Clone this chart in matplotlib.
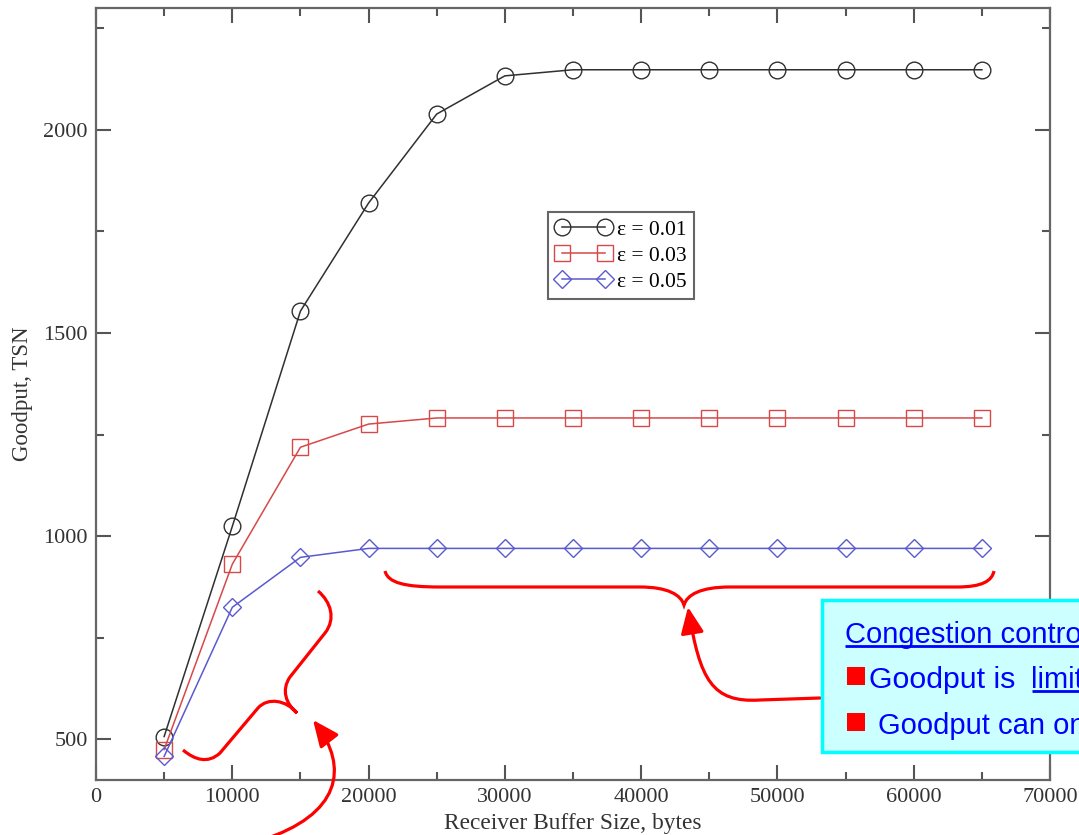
import matplotlib
matplotlib.use("Agg")
import matplotlib.pyplot as plt
from matplotlib.path import Path
from matplotlib.patches import PathPatch, FancyArrowPatch, Rectangle
from matplotlib.ticker import MultipleLocator

# ---------------- data ----------------
buffer_sizes = [5000, 10000, 15000, 20000, 25000, 30000, 35000, 40000,
                45000, 50000, 55000, 60000, 65000]
goodput_eps001 = [507, 1024, 1554, 1820, 2039, 2133, 2148, 2148, 2148,
                  2148, 2148, 2148, 2148]
goodput_eps003 = [475, 931, 1219, 1276, 1291, 1291, 1291, 1291, 1291,
                  1291, 1291, 1291, 1291]
goodput_eps005 = [458, 825, 948, 970, 970, 970, 970, 970, 970, 970,
                  970, 970, 970]
series_labels = ["ε = 0.01", "ε = 0.03", "ε = 0.05"]
x_label = "Receiver Buffer Size, bytes"
y_label = "Goodput, TSN"
box_line1 = "Congestion control limited"
box_line2a = "Goodput is"
box_line2b = "limited by cwnd"
box_line3 = "Goodput can only grow slowly"

W, H = 1079, 835
fig = plt.figure(figsize=(W / 100, H / 100), dpi=100)
serif = ["Liberation Serif", "DejaVu Serif"]

def fx(px):
    return px / W

def fy(py):
    return 1 - py / H

ax = fig.add_axes([fx(96), fy(780), fx(1050) - fx(96), fy(8) - fy(780)])
ax.set_xlim(0, 70000)
ax.set_ylim(400, 2300)

styles = [
    dict(color="#303030", marker="o", ms=12),
    dict(color="#d84848", marker="s", ms=11),
    dict(color="#5a5ad0", marker="D", ms=9),
]
for ys, lab, st in zip([goodput_eps001, goodput_eps003, goodput_eps005],
                       series_labels, styles):
    ax.plot(buffer_sizes, ys, color=st["color"], lw=1.1, marker=st["marker"],
            ms=st["ms"], mfc="none", mec=st["color"], mew=1.0, label=lab)

ax.xaxis.set_major_locator(MultipleLocator(10000))
ax.xaxis.set_minor_locator(MultipleLocator(5000))
ax.yaxis.set_major_locator(MultipleLocator(500))
ax.yaxis.set_minor_locator(MultipleLocator(250))
ax.set_yticks([500, 1000, 1500, 2000])
ax.tick_params(which="both", direction="in", top=True, right=True,
               color="#555555", width=1.5)
ax.tick_params(which="major", length=11, labelsize=16, pad=6,
               labelcolor="#333333")
ax.tick_params(which="minor", length=6)
for lbl in ax.get_xticklabels() + ax.get_yticklabels():
    lbl.set_family(serif)
for sp in ax.spines.values():
    sp.set_color("#666666")
    sp.set_linewidth(1.6)

ax.set_xlabel(x_label, fontsize=16.8, family=serif, color="#333333", labelpad=4)
ax.set_ylabel(y_label, fontsize=16.5, family=serif, color="#333333", labelpad=7)

leg = ax.legend(loc="upper left", bbox_to_anchor=(fx(548), fy(212)),
                bbox_transform=fig.transFigure, borderaxespad=0,
                numpoints=2, handlelength=2.6, handletextpad=0.25,
                labelspacing=0.28, borderpad=0.35, fancybox=False,
                prop=dict(family=serif, size=15.5))
leg.get_frame().set_edgecolor("#666666")
leg.get_frame().set_linewidth(1.5)
leg.get_frame().set_alpha(1)

# ---------------- overlay annotations (pixel space) ----------------
ov = fig.add_axes([0, 0, 1, 1], zorder=10)
ov.set_xlim(0, W)
ov.set_ylim(H, 0)
ov.axis("off")
ov.patch.set_alpha(0)

M, L, C = Path.MOVETO, Path.LINETO, Path.CURVE4
red = "#ff0000"

# brace under the flat part
brace1 = Path(
    [(385, 571), (388, 583), (405, 587), (440, 587),
     (640, 587),
     (668, 587), (681, 595), (684, 605),
     (687, 595), (700, 587), (730, 587),
     (957, 587),
     (982, 587), (992, 581), (994, 571)],
    [M, C, C, C, L, C, C, C, C, C, C, L, C, C, C])
ov.add_patch(PathPatch(brace1, fc="none", ec=red, lw=2.3))

# brace near the rising part
brace2 = Path(
    [(183, 750), (195, 760), (208, 764), (220, 753),
     (258, 708),
     (268, 697), (286, 700), (297, 713),
     (286, 704), (281, 690), (290, 677),
     (325, 633),
     (336, 619), (331, 602), (318, 591)],
    [M, C, C, C, L, C, C, C, C, C, C, L, C, C, C])
ov.add_patch(PathPatch(brace2, fc="none", ec=red, lw=2.3))

# arrow from text box to brace 1
arr1 = Path([(820, 698), (760, 700), (712, 703), (700, 680), (688, 607)],
            [M, L, C, C, C])
ov.add_patch(FancyArrowPatch(path=arr1, arrowstyle="-|>,head_length=1.6,head_width=0.7",
                             mutation_scale=10, color=red, lw=2.3))

# arrow from bottom to brace 2
arr2 = Path([(262, 840), (340, 815), (350, 768), (313, 720)],
            [M, C, C, C])
ov.add_patch(FancyArrowPatch(path=arr2, arrowstyle="-|>,head_length=1.6,head_width=0.7",
                             mutation_scale=10, color=red, lw=2.3))

# text box
ov.add_patch(Rectangle((822, 600), 300, 152, fc="#ccffff", ec="#00ffff", lw=2.5))
sans = ["Liberation Sans", "DejaVu Sans"]
blue = "#0000ff"
fs = 21
ov.text(845, 643, box_line1, fontsize=fs, family=sans, color=blue,
        va="baseline", ha="left")
ov.plot([845, 1100], [646, 646], color=blue, lw=2, solid_capstyle="butt")
ov.add_patch(Rectangle((847, 667), 18, 18, fc=red, ec="none"))
ov.text(869, 688, box_line2a, fontsize=21.8, family=sans, color=blue,
        va="baseline", ha="left")
ov.text(1031, 688, box_line2b, fontsize=fs, family=sans, color=blue,
        va="baseline", ha="left")
ov.plot([1032, 1100], [691, 691], color=blue, lw=2, solid_capstyle="butt")
ov.add_patch(Rectangle((847, 713), 18, 18, fc=red, ec="none"))
ov.text(878, 734, box_line3, fontsize=fs, family=sans, color=blue,
        va="baseline", ha="left")

fig.savefig("out.png", dpi=100)
